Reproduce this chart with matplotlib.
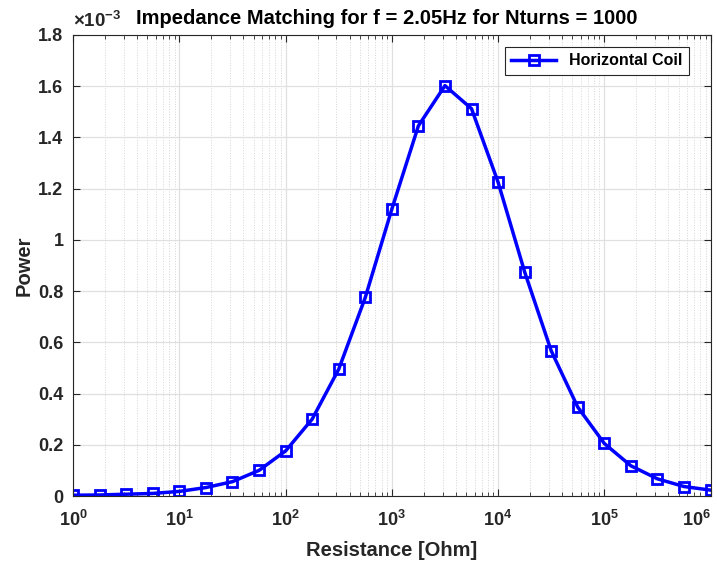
import numpy as np
import matplotlib.pyplot as plt
from matplotlib.ticker import FixedLocator, LogLocator, NullFormatter

plt.rcParams['font.family'] = ['Liberation Sans', 'DejaVu Sans']
plt.rcParams['font.weight'] = 'bold'
plt.rcParams['mathtext.fontset'] = 'custom'
plt.rcParams['mathtext.rm'] = 'Liberation Sans:bold'
plt.rcParams['mathtext.default'] = 'rm'

# resistance values (Ohm), quarter-decade steps
resistance = [1, 1.778, 3.162, 5.623, 10, 17.78, 31.62, 56.23, 100, 177.8,
              316.2, 562.3, 1000, 1778, 3162, 5623, 10000, 17780, 31620,
              56230, 100000, 177800, 316200, 562300, 1000000]
# power in units of 1e-3
power = [0.003, 0.004, 0.007, 0.010, 0.018, 0.033, 0.056, 0.100, 0.176, 0.300,
         0.495, 0.775, 1.120, 1.445, 1.602, 1.512, 1.225, 0.875, 0.567,
         0.347, 0.205, 0.118, 0.067, 0.037, 0.023]
ytick_labels = ['0', '0.2', '0.4', '0.6', '0.8', '1', '1.2', '1.4', '1.6', '1.8']
xtick_vals = [1, 10, 100, 1000, 10000, 100000, 1000000]
xtick_labels = [r'$10^{%d}$' % i for i in range(7)]

fig = plt.figure(figsize=(7.17, 5.63), dpi=100)
ax = fig.add_axes([0.102, 0.119, 0.889, 0.819])

ax.plot(resistance, power, color='blue', linewidth=2.5, marker='s',
        markersize=7.5, markerfacecolor='none', markeredgewidth=2,
        label='Horizontal Coil')

ax.set_xscale('log')
ax.set_xlim(1, 1e6)
ax.set_ylim(0, 1.8)
ax.set_xticks(xtick_vals)
ax.set_xticklabels(xtick_labels)
ax.yaxis.set_major_locator(FixedLocator(np.arange(0, 1.81, 0.2)))
ax.set_yticklabels(ytick_labels)
ax.xaxis.set_minor_locator(LogLocator(base=10, subs=np.arange(2, 10), numticks=20))
ax.xaxis.set_minor_formatter(NullFormatter())

ax.grid(True, which='major', color='#e0e0e0', linewidth=0.9)
ax.grid(True, which='minor', axis='x', color='#d4d4d4', linestyle=':', linewidth=0.7)
ax.set_axisbelow(True)

ax.tick_params(which='both', direction='in', top=True, right=True,
               labelsize=13, colors='#262626')
ax.tick_params(which='major', length=5)
ax.tick_params(which='minor', length=3)
ax.tick_params(axis='y', pad=7)
ax.tick_params(axis='x', pad=10)
for lab in ax.get_xticklabels() + ax.get_yticklabels():
    lab.set_fontweight('bold')
ax.get_xticklabels()[-1].set_horizontalalignment('right')
ax.get_xticklabels()[-1].set_x(1e6)
for s in ax.spines.values():
    s.set_color('#262626')
    s.set_linewidth(0.8)

ax.set_xlabel('Resistance [Ohm]', fontsize=14.5, fontweight='bold',
              color='#262626', labelpad=8)
ax.set_ylabel('Power', fontsize=14.5, fontweight='bold', color='#262626',
              labelpad=3)
ax.set_title('Impedance Matching for f = 2.05Hz for Nturns = 1000',
             fontsize=14.5, fontweight='bold', pad=8, x=0.492)
ax.text(0.0, 1.008, r'$\times10^{-3}$', transform=ax.transAxes,
        fontsize=13.5, ha='left', va='bottom', color='#262626')

leg = ax.legend(loc='upper right', bbox_to_anchor=(0.9655, 0.974),
                fontsize=11.5, fancybox=False, edgecolor='#262626',
                framealpha=1, handlelength=2.8, borderaxespad=0)
leg.get_frame().set_linewidth(0.8)
for t in leg.get_texts():
    t.set_fontweight('bold')

fig.savefig('out.png', dpi=100)
